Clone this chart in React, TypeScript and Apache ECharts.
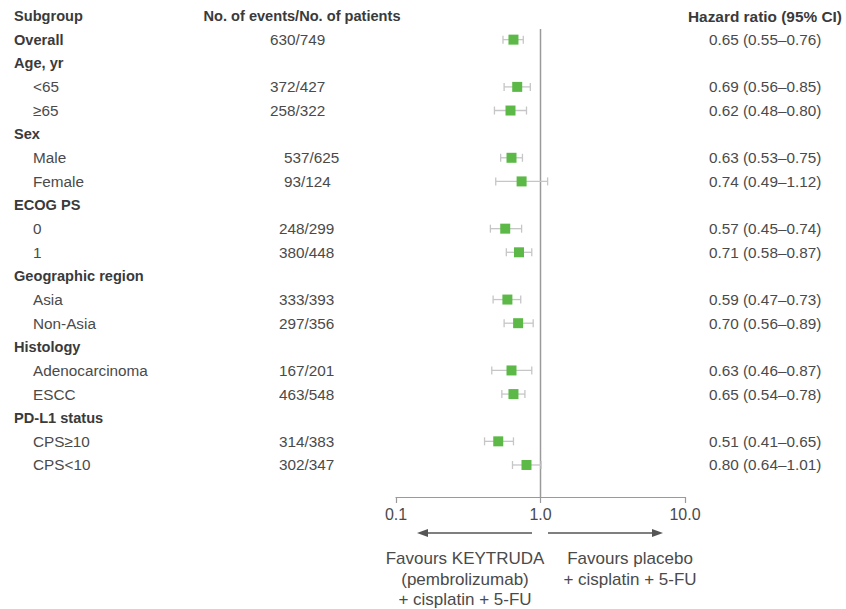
import React, { useEffect, useRef } from "react";
import * as echarts from "echarts";

// ---- data ----
const subgroups = [
  "Overall", "Age, yr", "<65", "≥65", "Sex", "Male", "Female", "ECOG PS", "0", "1",
  "Geographic region", "Asia", "Non-Asia", "Histology", "Adenocarcinoma", "ESCC",
  "PD-L1 status", "CPS≥10", "CPS<10",
];
const isHeading = [
  true, true, false, false, true, false, false, true, false, false,
  true, false, false, true, false, false, true, false, false,
];
const events = [
  "630/749", "", "372/427", "258/322", "", "537/625", "93/124", "", "248/299", "380/448",
  "", "333/393", "297/356", "", "167/201", "463/548", "", "314/383", "302/347",
];
const hr = [0.65, null, 0.69, 0.62, null, 0.63, 0.74, null, 0.57, 0.71, null, 0.59, 0.70, null, 0.63, 0.65, null, 0.51, 0.80];
const ciLow = [0.55, null, 0.56, 0.48, null, 0.53, 0.49, null, 0.45, 0.58, null, 0.47, 0.56, null, 0.46, 0.54, null, 0.41, 0.64];
const ciHigh = [0.76, null, 0.85, 0.80, null, 0.75, 1.12, null, 0.74, 0.87, null, 0.73, 0.89, null, 0.87, 0.78, null, 0.65, 1.01];
const xTicks = [0.1, 1, 10];
const headerSubgroup = "Subgroup";
const headerEvents = "No. of events/No. of patients";
const headerHR = "Hazard ratio (95% CI)";
const favoursLeft = ["Favours KEYTRUDA", "(pembrolizumab)", "+ cisplatin + 5-FU"];
const favoursRight = ["Favours placebo", "+ cisplatin + 5-FU"];

// ---- layout ----
const ROW_H = 23.63;
const GRID_TOP = 16;
const GRID_H = 481;
const Y_MAX = GRID_H / ROW_H;
const FONT = "'Liberation Sans', Arial, Helvetica, sans-serif";
const FS = 15.3;
const FS_BOLD = 14.6;
const TXT = "#4a4a4a";
const BOLD_TXT = "#3a3a3a";
const eventsNudge = [-9, 0, -9, -9, 0, 5, 5];

function fmt(v: number) {
  return v.toFixed(2);
}

export default function App() {
  const ref = useRef<HTMLDivElement>(null);
  useEffect(() => {
    if (!ref.current) return;
    const chart = echarts.init(ref.current, undefined, { renderer: "svg" });

    // text rows: [xDummy, row, kind, text, bold]
    type T = [number, number, string, string, number];
    const textRows: T[] = [];
    textRows.push([1, 0, "sub", headerSubgroup, 1]);
    textRows.push([1, 0, "evh", headerEvents, 1]);
    textRows.push([1, 0, "hrh", headerHR, 1]);
    subgroups.forEach((s, i) => {
      const row = i + 1;
      textRows.push([1, row, isHeading[i] ? "sub" : "subi", s, isHeading[i] ? 1 : 0]);
      if (events[i]) textRows.push([1, row, "ev" + i, events[i], 0]);
      if (hr[i] != null)
        textRows.push([1, row, "hr", `${fmt(hr[i] as number)} (${fmt(ciLow[i] as number)}–${fmt(ciHigh[i] as number)})`, 0]);
    });

    const ciData: number[][] = [];
    const ptData: number[][] = [];
    hr.forEach((v, i) => {
      if (v == null) return;
      ciData.push([ciLow[i] as number, ciHigh[i] as number, i + 1]);
      ptData.push([v, i + 1]);
    });

    const option: any = {
      animation: false,
      grid: { left: 396, width: 289, top: GRID_TOP, height: GRID_H },
      xAxis: {
        type: "log",
        logBase: 10,
        min: 0.1,
        max: 10,
        position: "bottom",
        axisLine: { show: true, onZero: false, lineStyle: { color: "#9a9a9a", width: 1.2 } },
        axisTick: { show: true, length: 6, lineStyle: { color: "#9a9a9a", width: 1.2 } },
        splitLine: { show: false },
        axisLabel: {
          margin: 9,
          fontFamily: FONT,
          fontSize: 16,
          color: TXT,
          formatter: (v: number) => (xTicks.includes(v) ? (v === 0.1 ? "0.1" : v.toFixed(1)) : ""),
        },
      },
      yAxis: {
        type: "value",
        inverse: true,
        min: 0,
        max: Y_MAX,
        show: false,
      },
      series: [
        {
          type: "custom",
          clip: false,
          silent: true,
          data: [[1, 0.55]],
          renderItem: (params: any, api: any) => {
            const top = api.coord([1, 0.55]);
            const bot = api.coord([1, Y_MAX]);
            return {
              type: "line",
              shape: { x1: top[0], y1: top[1], x2: bot[0], y2: bot[1] },
              style: { stroke: "#9a9a9a", lineWidth: 1.5 },
            };
          },
        },
        {
          type: "custom",
          clip: false,
          silent: true,
          data: ciData,
          renderItem: (params: any, api: any) => {
            const p1 = api.coord([api.value(0), api.value(2)]);
            const p2 = api.coord([api.value(1), api.value(2)]);
            const st = { stroke: "#c6c6c6", lineWidth: 1.3 };
            const c = 4;
            return {
              type: "group",
              children: [
                { type: "line", shape: { x1: p1[0], y1: p1[1], x2: p2[0], y2: p2[1] }, style: st },
                { type: "line", shape: { x1: p1[0], y1: p1[1] - c, x2: p1[0], y2: p1[1] + c }, style: st },
                { type: "line", shape: { x1: p2[0], y1: p2[1] - c, x2: p2[0], y2: p2[1] + c }, style: st },
              ],
            };
          },
        },
        {
          type: "scatter",
          silent: true,
          symbol: "rect",
          symbolSize: 10,
          itemStyle: { color: "#5cb947", opacity: 1 },
          data: ptData,
          z: 5,
        },
        {
          type: "custom",
          clip: false,
          silent: true,
          data: textRows,
          renderItem: (params: any, api: any) => {
            const item = textRows[params.dataIndex];
            const y = api.coord([1, item[1]])[1];
            const kind = item[2];
            let x = 14;
            let align = "left";
            let fs = item[4] ? FS_BOLD : FS;
            if (kind === "subi") x = 33;
            else if (kind === "evh") { x = 302; align = "center"; }
            else if (kind === "hrh") { x = 688; fs = 15.4; }
            else if (kind === "hr") x = 709;
            else if (kind.startsWith("ev")) {
              const idx = parseInt(kind.slice(2), 10);
              x = 279 + (eventsNudge[idx] || 0);
            }
            return {
              type: "text",
              x,
              y,
              style: {
                text: item[3],
                fontFamily: FONT,
                fontSize: fs,
                fontWeight: item[4] ? "bold" : "normal",
                fill: item[4] ? BOLD_TXT : TXT,
                align,
                verticalAlign: "middle",
              },
            };
          },
        },
      ],
      graphic: [
        { type: "line", shape: { x1: 532, y1: 533, x2: 425, y2: 533 }, style: { stroke: "#555", lineWidth: 1.3 } },
        { type: "polygon", shape: { points: [[417, 533], [428, 529], [428, 537]] }, style: { fill: "#555" } },
        { type: "line", shape: { x1: 548, y1: 533, x2: 655, y2: 533 }, style: { stroke: "#555", lineWidth: 1.3 } },
        { type: "polygon", shape: { points: [[663, 533], [652, 529], [652, 537]] }, style: { fill: "#555" } },
        ...favoursLeft.map((t, i) => ({
          type: "text",
          x: 465,
          y: 558.5 + i * 20.5,
          style: { text: t, fontFamily: FONT, fontSize: 17, fill: TXT, align: "center", verticalAlign: "middle" },
        })),
        ...favoursRight.map((t, i) => ({
          type: "text",
          x: 630,
          y: 558.5 + i * 20.5,
          style: { text: t, fontFamily: FONT, fontSize: 17, fill: TXT, align: "center", verticalAlign: "middle" },
        })),
      ],
    };
    chart.setOption(option);
    return () => chart.dispose();
  }, []);
  return <div ref={ref} style={{ position: "absolute", left: 0, top: 0, width: 846, height: 609 }} />;
}
